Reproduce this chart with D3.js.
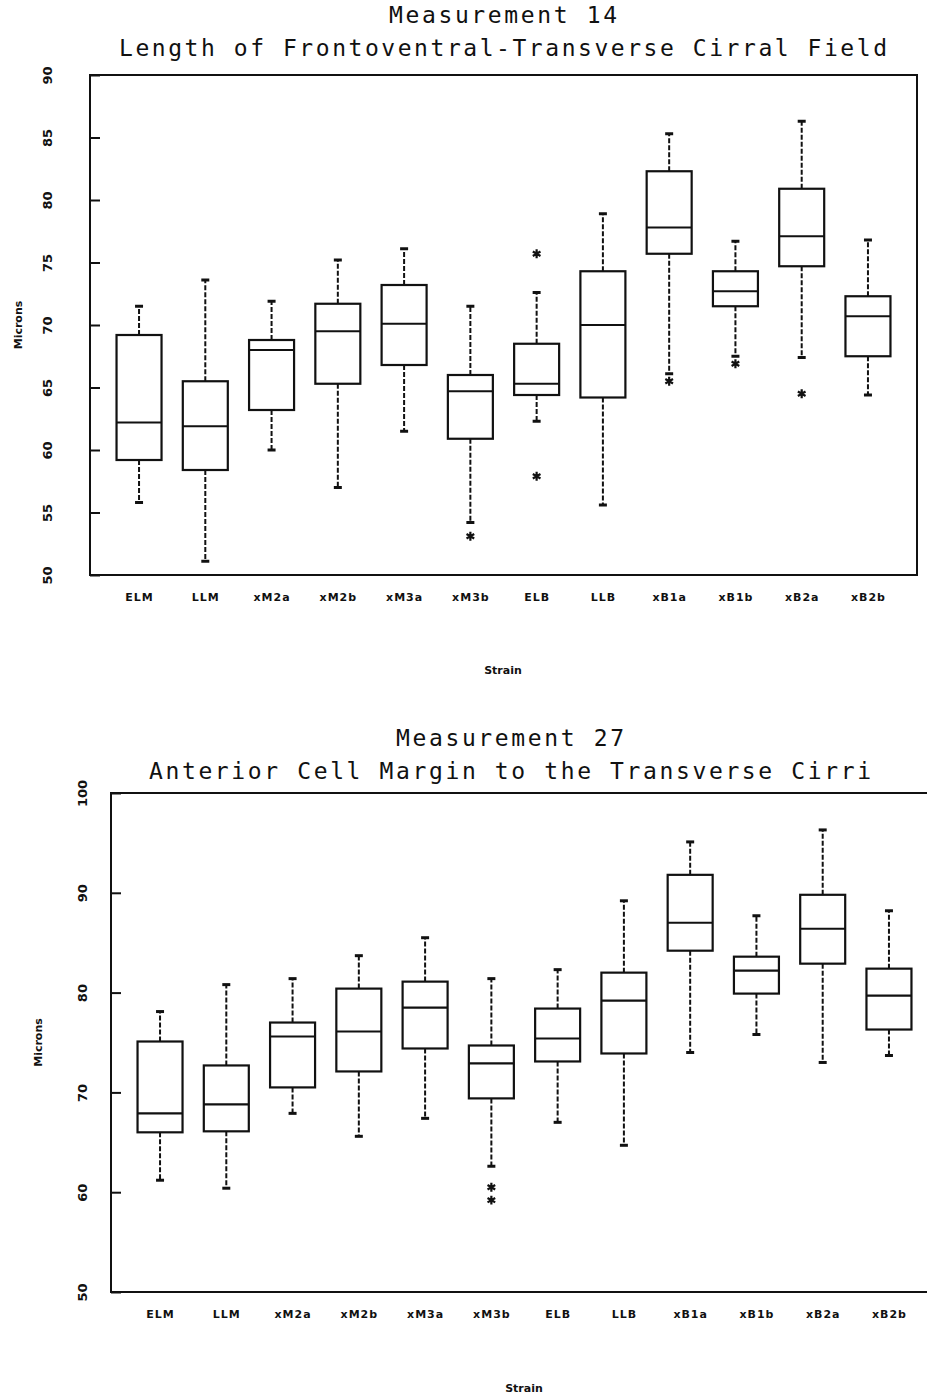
<!DOCTYPE html>
<html>
<head>
<meta charset="utf-8">
<script src="https://cdn.jsdelivr.net/npm/d3@7"></script>
<style>
  body { margin: 0; background: #fff; }
  .ttl { font-family: "DejaVu Sans Mono", monospace; font-size: 23px; fill: #111; }
  .lbl { font-family: "DejaVu Sans", sans-serif; font-weight: bold; font-size: 11px; fill: #111; }
  .tk text { font-family: "DejaVu Sans", sans-serif; font-weight: bold; font-size: 13px; fill: #111; }
</style>
</head>
<body>
<div class="chart"></div>
<script>
// strains on the x axis
let strains = ["ELM", "LLM", "xM2a", "xM2b", "xM3a", "xM3b", "ELB", "LLB", "xB1a", "xB1b", "xB2a", "xB2b"];

// Measurement 14 (microns)
let m14Low  = [55.8, 51.1, 60.0, 57.0, 61.5, 54.2, 62.3, 55.6, 66.1, 67.5, 67.4, 64.4];
let m14Q1   = [59.2, 58.4, 63.2, 65.3, 66.8, 60.9, 64.4, 64.2, 75.7, 71.5, 74.7, 67.5];
let m14Med  = [62.2, 61.9, 68.0, 69.5, 70.1, 64.7, 65.3, 70.0, 77.8, 72.7, 77.1, 70.7];
let m14Q3   = [69.2, 65.5, 68.8, 71.7, 73.2, 66.0, 68.5, 74.3, 82.3, 74.3, 80.9, 72.3];
let m14High = [71.5, 73.6, 71.9, 75.2, 76.1, 71.5, 72.6, 78.9, 85.3, 76.7, 86.3, 76.8];
let m14Out  = [[], [], [], [], [], [53.1], [75.7, 57.9], [], [65.5], [66.9], [64.5], []];
let m14Ticks = [50, 55, 60, 65, 70, 75, 80, 85, 90];

// Measurement 27 (microns)
let m27Low  = [61.2, 60.4, 67.9, 65.6, 67.4, 62.6, 67.0, 64.7, 74.0, 75.8, 73.0, 73.7];
let m27Q1   = [66.0, 66.1, 70.5, 72.1, 74.4, 69.4, 73.1, 73.9, 84.2, 79.9, 82.9, 76.3];
let m27Med  = [67.9, 68.8, 75.6, 76.1, 78.5, 72.9, 75.4, 79.2, 87.0, 82.2, 86.4, 79.7];
let m27Q3   = [75.1, 72.7, 77.0, 80.4, 81.1, 74.7, 78.4, 82.0, 91.8, 83.6, 89.8, 82.4];
let m27High = [78.1, 80.8, 81.4, 83.7, 85.5, 81.4, 82.3, 89.2, 95.1, 87.7, 96.3, 88.2];
let m27Out  = [[], [], [], [], [], [60.5, 59.2], [], [], [], [], [], []];
let m27Ticks = [50, 60, 70, 80, 90, 100];

let svg = d3.select('.chart').append('svg')
    .attr('width', 927)
    .attr('height', 1397);
svg.append('rect').attr('width', 927).attr('height', 1397).attr('fill', '#fff');

function drawChart(opt) {
    let x = d3.scalePoint().domain(strains).range([opt.left, opt.right]).padding(0.74);
    let y = d3.scaleLinear().domain(opt.domain).range([opt.bottom, opt.top]);
    let bw = 45;

    let rows = strains.map((s, i) => ({
        s: s, lo: opt.lo[i], q1: opt.q1[i], med: opt.med[i], q3: opt.q3[i], hi: opt.hi[i], out: opt.out[i]
    }));

    // titles
    svg.append('text').attr('class', 'ttl')
        .attr('x', opt.titleX).attr('y', opt.titleY1)
        .attr('text-anchor', 'middle')
        .attr('textLength', opt.t1Len).attr('lengthAdjust', 'spacing')
        .text(opt.title1);
    svg.append('text').attr('class', 'ttl')
        .attr('x', opt.titleX).attr('y', opt.titleY2)
        .attr('text-anchor', 'middle')
        .attr('textLength', opt.t2Len).attr('lengthAdjust', 'spacing')
        .text(opt.title2);

    // frame
    svg.append('rect')
        .attr('x', opt.left).attr('y', opt.top)
        .attr('width', opt.right - opt.left).attr('height', opt.bottom - opt.top)
        .attr('fill', 'none').attr('stroke', '#111').attr('stroke-width', 2);

    // y axis, ticks point into the plot
    let yAxis = d3.axisLeft(y).tickValues(opt.ticks).tickSizeInner(-10).tickSizeOuter(0);
    let gy = svg.append('g').attr('class', 'tk')
        .attr('transform', 'translate(' + opt.left + ',0)')
        .call(yAxis);
    gy.select('.domain').remove();
    gy.selectAll('line').attr('stroke', '#111').attr('stroke-width', 2);
    gy.selectAll('text')
        .attr('x', null).attr('dy', null)
        .attr('text-anchor', 'middle')
        .attr('dominant-baseline', 'central')
        .attr('transform', 'translate(' + (opt.tickLabelX - opt.left) + ',0) rotate(-90)');

    // x axis labels
    let xAxis = d3.axisBottom(x).tickSize(0).tickPadding(0);
    let gx = svg.append('g').attr('class', 'tk')
        .attr('transform', 'translate(0,' + opt.bottom + ')')
        .call(xAxis);
    gx.select('.domain').remove();
    gx.selectAll('text').attr('y', 22).attr('dy', null)
        .attr('dominant-baseline', 'central')
        .style('font-size', '11px').style('letter-spacing', '1px');

    // axis names
    svg.append('text').attr('class', 'lbl')
        .attr('text-anchor', 'middle').attr('dominant-baseline', 'central')
        .attr('transform', 'translate(' + opt.micronsX + ',' + ((opt.top + opt.bottom) / 2) + ')rotate(-90)')
        .text('Microns');
    svg.append('text').attr('class', 'lbl')
        .attr('text-anchor', 'middle').attr('dominant-baseline', 'central')
        .attr('x', opt.strainX).attr('y', opt.strainY)
        .text('Strain');

    let g = svg.append('g');
    let box = g.selectAll('g.box').data(rows).enter().append('g').attr('class', 'box');

    // whiskers
    box.append('line')
        .attr('x1', d => x(d.s)).attr('x2', d => x(d.s))
        .attr('y1', d => y(d.q3)).attr('y2', d => y(d.hi))
        .attr('stroke', '#111').attr('stroke-width', 2).attr('stroke-dasharray', '5,2');
    box.append('line')
        .attr('x1', d => x(d.s)).attr('x2', d => x(d.s))
        .attr('y1', d => y(d.q1)).attr('y2', d => y(d.lo))
        .attr('stroke', '#111').attr('stroke-width', 2).attr('stroke-dasharray', '5,2');
    // caps
    ['hi', 'lo'].forEach(k => {
        box.append('line')
            .attr('x1', d => x(d.s) - 4).attr('x2', d => x(d.s) + 4)
            .attr('y1', d => y(d[k])).attr('y2', d => y(d[k]))
            .attr('stroke', '#111').attr('stroke-width', 3);
    });
    // boxes
    box.append('rect')
        .attr('x', d => x(d.s) - bw / 2).attr('width', bw)
        .attr('y', d => y(d.q3)).attr('height', d => y(d.q1) - y(d.q3))
        .attr('fill', '#fff').attr('stroke', '#111').attr('stroke-width', 2.2);
    box.append('line')
        .attr('x1', d => x(d.s) - bw / 2).attr('x2', d => x(d.s) + bw / 2)
        .attr('y1', d => y(d.med)).attr('y2', d => y(d.med))
        .attr('stroke', '#111').attr('stroke-width', 2.2);
    // outliers
    let star = d3.symbol().type(d3.symbolAsterisk).size(55);
    box.selectAll('path.out').data(d => d.out.map(v => ({ s: d.s, v: v }))).enter()
        .append('path').attr('class', 'out')
        .attr('d', star)
        .attr('transform', d => 'translate(' + x(d.s) + ',' + y(d.v) + ')')
        .attr('fill', 'none').attr('stroke', '#111').attr('stroke-width', 2.2);
}

drawChart({
    left: 90, right: 917, top: 75, bottom: 575, domain: [50, 90], ticks: m14Ticks,
    lo: m14Low, q1: m14Q1, med: m14Med, q3: m14Q3, hi: m14High, out: m14Out,
    title1: 'Measurement 14', title2: 'Length of Frontoventral-Transverse Cirral Field',
    titleX: 503, titleY1: 23, titleY2: 56, t1Len: 228, t2Len: 768,
    tickLabelX: 47, micronsX: 18, strainX: 503, strainY: 670
});

drawChart({
    left: 111, right: 938, top: 793, bottom: 1292, domain: [50, 100], ticks: m27Ticks,
    lo: m27Low, q1: m27Q1, med: m27Med, q3: m27Q3, hi: m27High, out: m27Out,
    title1: 'Measurement 27', title2: 'Anterior Cell Margin to the Transverse Cirri',
    titleX: 510, titleY1: 746, titleY2: 779, t1Len: 228, t2Len: 722,
    tickLabelX: 82, micronsX: 38, strainX: 524, strainY: 1388
});
</script>
</body>
</html>
